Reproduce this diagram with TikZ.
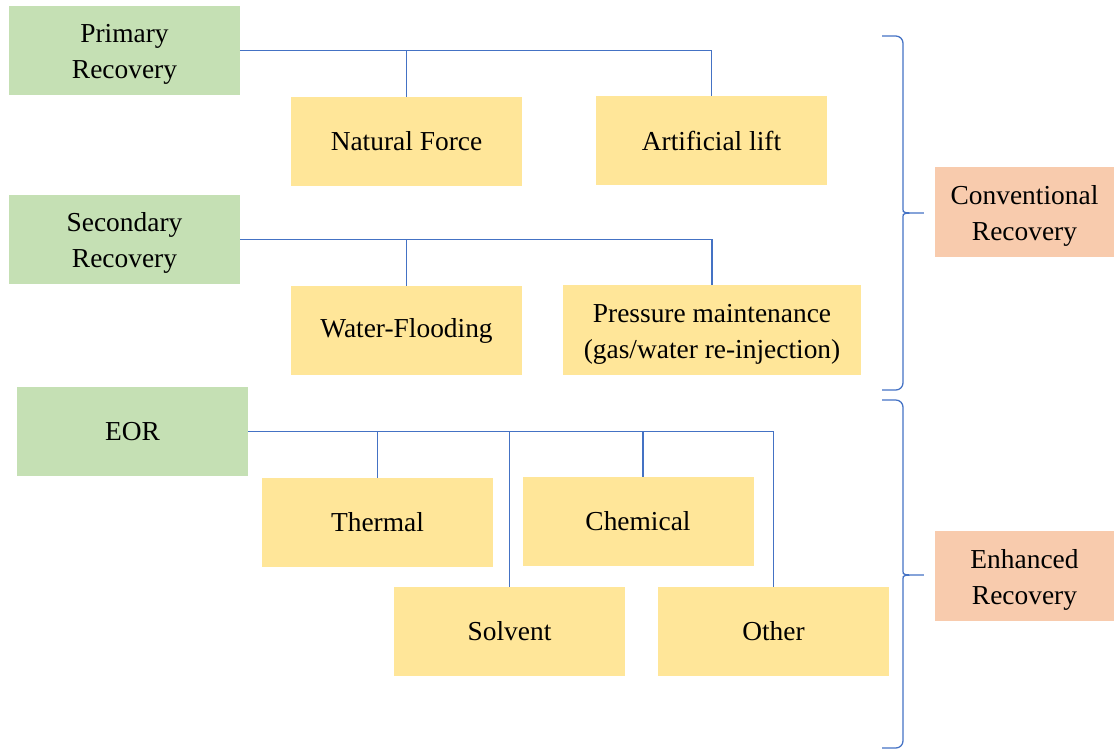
\documentclass[tikz,border=0pt]{standalone}
\usepackage{fontspec}
\setmainfont{Liberation Serif}

\definecolor{stagegreen}{HTML}{C5E0B4}
\definecolor{methodyellow}{HTML}{FFE699}
\definecolor{groupsalmon}{HTML}{F8CBAD}
\definecolor{linkblue}{HTML}{4472C4}

% raises the first line of a two-line label a little
\newcommand{\firststrut}{\rule{0pt}{0.67cm}}

\begin{document}
\begin{tikzpicture}[
  font=\fontsize{19.5}{25.6}\selectfont,
  stage/.style={fill=stagegreen, draw=none, inner sep=0pt, align=center, minimum width=5.775cm, minimum height=2.225cm},
  method/.style={fill=methodyellow, draw=none, inner sep=0pt, align=center, minimum width=5.775cm, minimum height=2.225cm},
  group/.style={fill=groupsalmon, draw=none, inner sep=0pt, align=center, minimum width=4.475cm, minimum height=2.25cm},
  link/.style={draw=linkblue, line width=0.8pt},
  bracket/.style={draw=linkblue, line width=0.9pt, rounded corners=0.18cm},
]
\useasboundingbox (0,0) rectangle (27.85,-18.75);

% ---------- stages ----------
\node[stage] (prim) at (3.1125,-1.2625)  {\firststrut Primary\\Recovery};
\node[stage] (sec)  at (3.1125,-5.9875)  {\firststrut Secondary\\Recovery};
\node[stage] (eor)  at (3.3125,-10.7875) {EOR};

% ---------- primary methods ----------
\node[method] (nat) at (10.1625,-3.5375) {Natural Force};
\node[method] (art) at (17.7875,-3.5125) {Artificial lift};

% ---------- secondary methods ----------
\node[method] (wat) at (10.1625,-8.2625) {Water-Flooding};
\node[method, minimum width=7.45cm, minimum height=2.25cm] (pres) at (17.8,-8.25)
  {\firststrut Pressure maintenance\\(gas/water re-injection)};

% ---------- EOR methods ----------
\node[method] (therm) at (9.4375,-13.0625)  {Thermal};
\node[method] (chem)  at (15.95,-13.0375)   {Chemical};
\node[method] (solv)  at (12.7375,-15.7875) {Solvent};
\node[method] (oth)   at (19.3375,-15.7875) {Other};

% ---------- groups ----------
\node[group] (conv) at (25.6125,-5.3)  {\firststrut Conventional\\Recovery};
\node[group] (enh)  at (25.6125,-14.4) {\firststrut Enhanced\\Recovery};

% ---------- links ----------
\draw[link] (prim.east) -| (art.north);
\draw[link] (prim.east -| nat.north) -- (nat.north);
\draw[link] (sec.east) -| (pres.north);
\draw[link] (sec.east -| wat.north) -- (wat.north);
\draw[link] (eor.east) -| (oth.north);
\draw[link] (eor.east -| therm.north) -- (therm.north);
\draw[link] (eor.east -| solv.north) -- (solv.north);
\draw[link] ([xshift=0.125cm]eor.east -| chem.north) -- ([xshift=0.125cm]chem.north);

% ---------- braces ----------
\coordinate (convtip) at (23.2,-5.325);
\coordinate (enhtip)  at (23.2,-14.375);
\draw[bracket] (22.05,-0.9) -- (22.575,-0.9) -- (22.575,-5.05)
  .. controls (22.575,-5.325) .. (convtip)
  .. controls (22.575,-5.325) .. (22.575,-5.6) -- (22.575,-9.75) -- (22.05,-9.75);
\draw[bracket] (22.05,-10.0) -- (22.575,-10.0) -- (22.575,-14.1)
  .. controls (22.575,-14.375) .. (enhtip)
  .. controls (22.575,-14.375) .. (22.575,-14.65) -- (22.575,-18.7) -- (22.05,-18.7);
\end{tikzpicture}
\end{document}
